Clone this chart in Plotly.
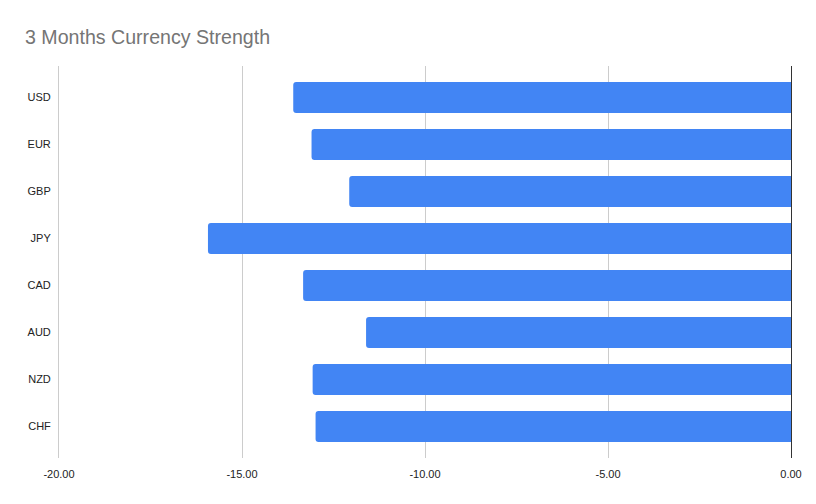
import plotly.graph_objects as go

currencies = ["USD", "EUR", "GBP", "JPY", "CAD", "AUD", "NZD", "CHF"]
strength = [-13.60, -13.10, -12.07, -15.93, -13.33, -11.61, -13.07, -12.99]
tick_vals = [-20, -15, -10, -5, 0]
tick_labels = ["-20.00", "-15.00", "-10.00", "-5.00", "0.00"]

fig = go.Figure(
    go.Bar(
        x=strength,
        y=currencies,
        orientation="h",
        marker=dict(color="#4285F4", cornerradius=3, line=dict(width=0)),
        width=0.66,
        hoverinfo="x+y",
    )
)

fig.update_layout(
    width=816,
    height=504,
    paper_bgcolor="white",
    plot_bgcolor="white",
    margin=dict(l=59, r=25, t=66, b=46),
    title=dict(
        text="3 Months Currency Strength",
        x=25 / 816,
        xanchor="left",
        y=1 - 37 / 504,
        yanchor="middle",
        font=dict(family="Liberation Sans, Arial, sans-serif", size=19.6, color="#757575"),
    ),
    font=dict(family="Liberation Sans, Arial, sans-serif", size=11, color="#222222"),
    showlegend=False,
    bargap=0.34,
)

fig.update_xaxes(
    range=[-20, 0],
    tickvals=tick_vals,
    ticktext=tick_labels,
    showgrid=True,
    gridcolor="#cccccc",
    gridwidth=1,
    zeroline=True,
    zerolinecolor="#333333",
    zerolinewidth=1,
    showline=False,
    ticks="",
    ticklabelstandoff=8,
    tickfont=dict(size=11, color="#222222"),
)

fig.update_yaxes(
    categoryorder="array",
    categoryarray=currencies,
    range=[7.67, -0.67],
    showgrid=False,
    zeroline=False,
    showline=True,
    linecolor="#cccccc",
    linewidth=1,
    ticks="",
    ticklabelstandoff=5,
    tickfont=dict(size=11, color="#222222"),
)

fig.write_html("out.html", config={"displayModeBar": False})

# remove default page margin so the figure sits at the window's top-left corner
with open("out.html", "r", encoding="utf-8") as f:
    html = f.read()
html = html.replace("<head>", "<head><style>html,body{margin:0;padding:0;overflow:hidden;}</style>", 1)
with open("out.html", "w", encoding="utf-8") as f:
    f.write(html)
